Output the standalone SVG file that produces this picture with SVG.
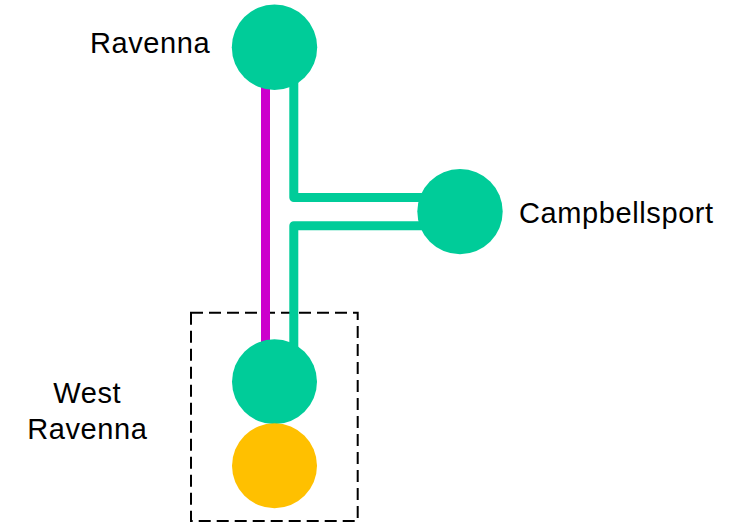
<svg xmlns="http://www.w3.org/2000/svg" width="742" height="526" viewBox="0 0 742 526">
<style>
.lbl{font-family:"Liberation Sans",Arial,sans-serif;font-size:29px;fill:#000;letter-spacing:0.6px}
.ln{fill:none;stroke-width:9;stroke-linejoin:round}
.g{stroke:#00CC99}
.m{stroke:#CC00CC}
.stn{fill:#00CC99}
</style>
<rect width="742" height="526" fill="#fff"/>
<g id="group-west-ravenna">
<rect x="191" y="312.7" width="166.7" height="208.3" fill="none" stroke="#000" stroke-width="2" stroke-dasharray="12,6"/>
</g>
<g id="connectors">
<path class="ln m" d="M265.5 80 V350"/>
<path class="ln g" d="M293.8 80 V197.5 H430"/>
<path class="ln g" d="M430 225.7 H293.8 V350"/>
</g>
<g id="node-ravenna">
<circle class="stn" cx="274.5" cy="47.3" r="42.7"/>
<text class="lbl" x="90" y="53.3">Ravenna</text>
</g>
<g id="node-campbellsport">
<circle class="stn" cx="460" cy="211.6" r="42.7"/>
<text class="lbl" x="519" y="223.3">Campbellsport</text>
</g>
<g id="node-west-ravenna">
<circle class="stn" cx="274.5" cy="381.7" r="42.5"/>
<circle fill="#FFC000" cx="274.5" cy="465.8" r="42.5"/>
<text class="lbl" text-anchor="middle" x="87.3" y="403.3">West</text>
<text class="lbl" text-anchor="middle" x="87.3" y="439">Ravenna</text>
</g>
</svg>
